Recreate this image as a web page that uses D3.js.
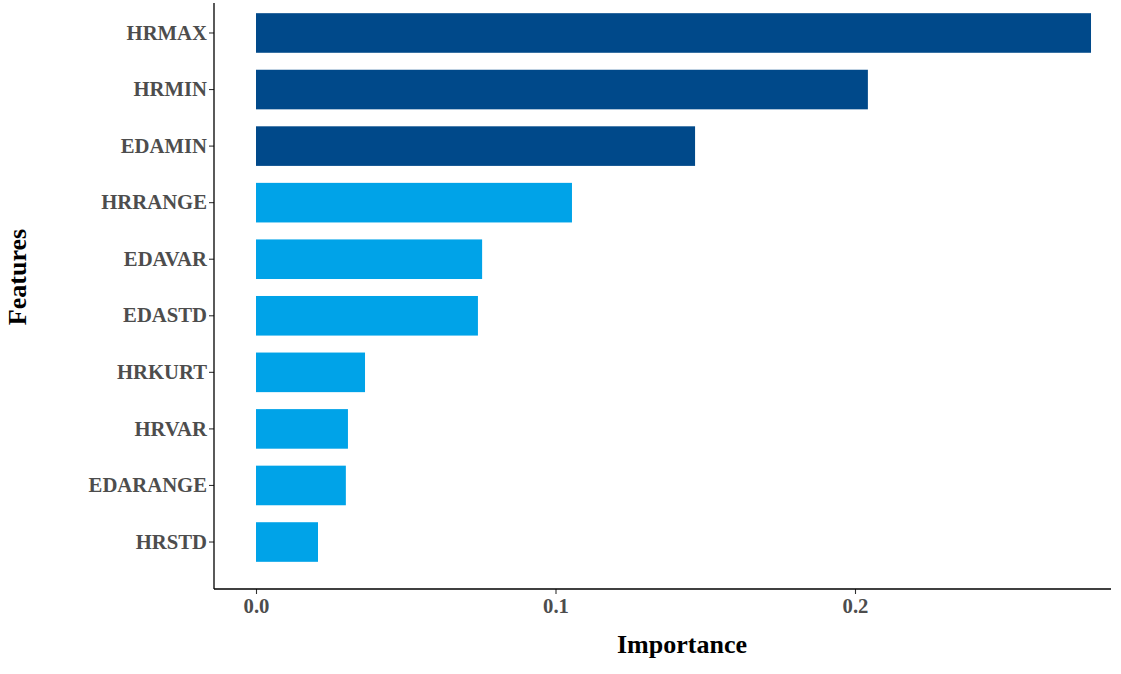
<!DOCTYPE html>
<html><head><meta charset="utf-8">
<script src="https://cdn.jsdelivr.net/npm/d3@7"></script>
<style>body{margin:0;background:#fff}</style>
</head><body>
<svg id="c" width="1121" height="674"></svg>
<script>
const features = ["HRMAX","HRMIN","EDAMIN","HRRANGE","EDAVAR","EDASTD","HRKURT","HRVAR","EDARANGE","HRSTD"];
const importance = [0.2788,0.2043,0.1466,0.1055,0.0755,0.0741,0.0364,0.0307,0.0300,0.0207];
const groups = ["top","top","top","other","other","other","other","other","other","other"];
const xTicks = [0.0,0.1,0.2];
const xTickLabels = ["0.0","0.1","0.2"];

const svg = d3.select("#c");
const font = "'Liberation Serif','Times New Roman',serif";
const x = d3.scaleLinear().domain([0,0.1]).range([256,555.5]);
const y = d3.scaleBand().domain(features).range([4.7,570.3]).paddingInner(0.3).paddingOuter(0.15);
const color = d3.scaleOrdinal().domain(["top","other"]).range(["#00498A","#00A3E8"]);

svg.append("g").selectAll("rect").data(features).join("rect")
  .attr("x", x(0))
  .attr("y", d => y(d))
  .attr("width", (d,i) => x(importance[i]) - x(0))
  .attr("height", y.bandwidth())
  .attr("fill", (d,i) => color(groups[i]));

// y axis
const yAxis = svg.append("g").attr("transform","translate(214,0)")
  .call(d3.axisLeft(y).tickSize(5).tickPadding(2).tickSizeOuter(0));
yAxis.select(".domain").remove();
yAxis.append("line").attr("x1",0).attr("x2",0).attr("y1",3).attr("y2",589).attr("stroke","#000").attr("stroke-width",1.3);
yAxis.selectAll(".tick line").attr("stroke","#333").attr("stroke-width",1.1);
yAxis.selectAll(".tick text").attr("font-family",font).attr("font-weight","bold").attr("font-size",20.7).attr("fill","#4d4d4d");

// x axis
const xAxis = svg.append("g").attr("transform","translate(0,589)")
  .call(d3.axisBottom(x).tickValues(xTicks).tickFormat((d,i)=>xTickLabels[i]).tickSize(5).tickPadding(4).tickSizeOuter(0));
xAxis.select(".domain").remove();
xAxis.append("line").attr("x1",214).attr("x2",1111).attr("y1",0).attr("y2",0).attr("stroke","#000").attr("stroke-width",1.3);
xAxis.selectAll(".tick line").attr("stroke","#333").attr("stroke-width",1.1);
xAxis.selectAll(".tick text").attr("font-family",font).attr("font-weight","bold").attr("font-size",20.7).attr("fill","#4d4d4d");

svg.append("text").attr("x",682).attr("y",653).attr("text-anchor","middle")
  .attr("font-family",font).attr("font-weight","bold").attr("font-size",26).attr("fill","#000").text("Importance");
svg.append("text").attr("transform","translate(26,277) rotate(-90)").attr("text-anchor","middle")
  .attr("font-family",font).attr("font-weight","bold").attr("font-size",26).attr("fill","#000").text("Features");
</script>
</body></html>
